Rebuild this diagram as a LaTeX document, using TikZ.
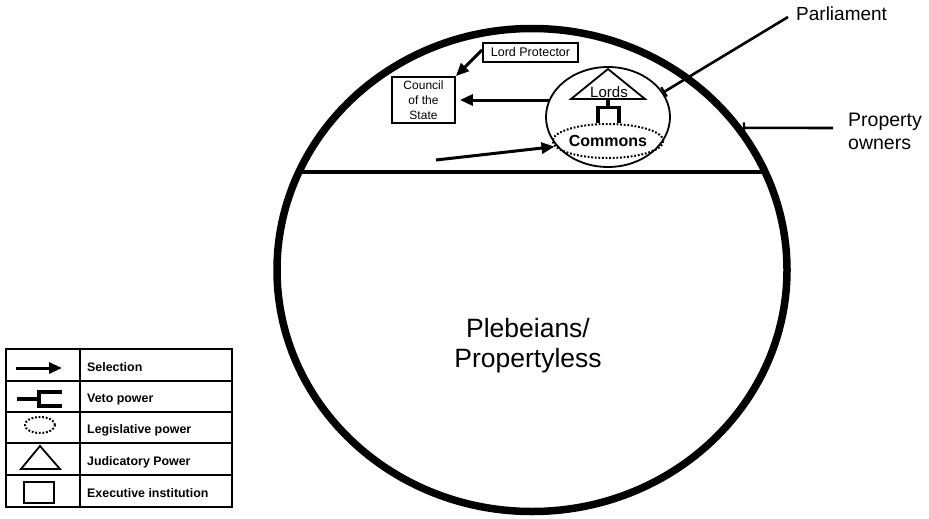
\documentclass[tikz,border=0pt]{standalone}
\usepackage{fontspec}
\setmainfont{Liberation Sans}
\usetikzlibrary{arrows.meta,shapes.geometric}
\begin{document}
\begin{tikzpicture}[x=1pt,y=-1pt,
  box/.style={draw,line width=1.8pt,inner sep=0pt},
  sel/.style={line width=3pt,-{Triangle[length=13pt,width=11pt]}},
  pointer/.style={line width=2.6pt,-{Bar[width=11pt,line width=2.2pt]}},
  vetostroke/.style={line width=3.4pt},
  thin outline/.style={line width=1.8pt},
  legis/.style={line width=2pt,dash pattern=on 1.8pt off 1.8pt},
  legtxt/.style={anchor=base west,font=\fontsize{12.4}{14}\selectfont\bfseries,inner sep=0pt},
  gridline/.style={line width=1.7pt},
]
\path[use as bounding box] (0,0) rectangle (929,519);

% society: property owners above the divider, plebeians below
\node[ellipse,draw,line width=7.5pt,minimum width=510pt,minimum height=483pt,inner sep=0pt] (society) at (532,270) {};
\coordinate (divL) at (300,172);
\coordinate (divR) at (764,172);
\draw[line width=3.2pt] (divL) -- (divR);
\node[font=\fontsize{26.5}{30}\selectfont,align=center] (pleb) at (528,346) {Plebeians/\\Propertyless};

% executive institutions
\node[box,minimum width=95pt,minimum height=19pt,font=\fontsize{12.5}{14}\selectfont] (lp) at (530.5,52.5) {Lord Protector};
\node[box,minimum width=63pt,minimum height=46pt,align=center,font=\fontsize{12}{15}\selectfont] (council) at (423.5,100) {Council\\of the\\State};

% parliament with its two houses
\node[ellipse,draw,thin outline,minimum width=124pt,minimum height=100pt,inner sep=0pt] (parl) at (608,117) {};
\node[ellipse,draw,legis,minimum width=96pt,minimum height=34pt,inner sep=0pt,font=\fontsize{16}{18}\selectfont\bfseries] (commons) at (608,141) {Commons};
\coordinate (apex) at (608,69);
\coordinate (baseL) at (571,99);
\coordinate (baseR) at (645,99);
\draw[thin outline] (apex) -- (baseL) -- (baseR) -- cycle;
\node[anchor=base,font=\fontsize{15}{17}\selectfont,inner sep=0pt] (lords) at (609,97.5) {Lords};

% veto of the Lords over the Commons
\coordinate (vetoTop) at (608,99);
\coordinate (vetoMid) at (608,107.5);
\draw[vetostroke] (vetoTop) -- (vetoMid);
\draw[vetostroke] (598,123) -- (598,107.5) -- (619,107.5) -- (619,123);

% selection arrows
\draw[sel] ([yshift=2.5pt]lp.west) -- (council.north east);
\draw[sel,shorten >=4pt] (parl.164) -- (council.east |- parl.164);
\coordinate (voters) at (436,160);
\draw[sel] (voters) -- (commons.186);

% outside labels
\node[anchor=west,font=\fontsize{19}{21}\selectfont,inner sep=0pt] (parlabel) at (796,14) {Parliament};
\coordinate (parlTail) at (788,17);
\draw[pointer] (parlTail) -- (parl.24);
\node[anchor=west,align=left,font=\fontsize{19.5}{23}\selectfont,inner sep=0pt] (owners) at (848,131) {Property\\owners};
\coordinate (ownTail) at (833,128);
\draw[pointer] (ownTail) -- (society.34);

% legend
\draw[gridline] (6,349) rectangle (232,507);
\draw[gridline] (80,349) -- (80,507);
\foreach \yy in {381,412,443,475} \draw[gridline] (6,\yy) -- (232,\yy);

\draw[sel] (16,368) -- (62,368);
\draw[vetostroke] (17,399) -- (39,399);
\draw[vetostroke] (62,392) -- (39,392) -- (39,406) -- (62,406);
\draw[legis] (40,425) ellipse [x radius=15pt,y radius=8pt];
\draw[thin outline] (40,446) -- (60,469) -- (21,469) -- cycle;
\draw[thin outline] (24,482) rectangle (54,503);

\node[legtxt] (legSel) at (87,371) {Selection};
\node[legtxt] (legVeto) at (87,402) {Veto power};
\node[legtxt] (legLeg) at (87,433.5) {Legislative power};
\node[legtxt] (legJud) at (87,465) {Judicatory Power};
\node[legtxt] (legExe) at (87,497) {Executive institution};
\end{tikzpicture}
\end{document}
